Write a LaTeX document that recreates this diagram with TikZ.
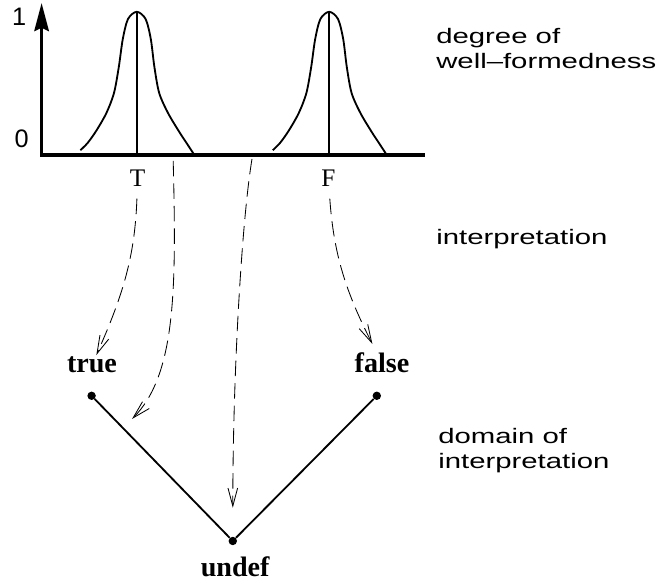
\documentclass[tikz,border=0pt]{standalone}
\usepackage{fontspec}
\usepackage{tikz}
\usetikzlibrary{arrows.meta}
\setmainfont{Liberation Serif}
\newfontfamily\labelsans[FakeStretch=1.4]{Liberation Sans}
\newfontfamily\axissans{Liberation Sans}

\begin{document}
\begin{tikzpicture}[x=1cm,y=1cm,
  axisline/.style={line width=2.4pt},
  peakline/.style={line width=1.3pt},
  mapto/.style={line width=0.6pt,dash pattern=on 11pt off 5pt,
    -{Straight Barb[length=0.45cm,width=0.24cm]}},
  valdot/.style={circle,fill,inner sep=0pt,minimum size=0.21cm},
  valname/.style={inner sep=1pt,font=\bfseries\fontsize{20}{24}\selectfont},
  sidetext/.style={anchor=base west,align=left,inner sep=0pt,
    font=\labelsans\fontsize{14.9}{18.4}\selectfont}]
\path[use as bounding box] (0,0) rectangle (16.50,14.575);
% axes
\draw[axisline,{Stealth[length=0.7cm,width=0.36cm,inset=0.08cm]}-] (1.04,14.50) -- (1.04,10.70) -- (10.63,10.70);
\node[font=\axissans\fontsize{18}{21}\selectfont] (one) at (0.48,14.15) {1};
\node[font=\axissans\fontsize{18}{21}\selectfont] (zero) at (0.54,11.10) {0};
% the two peaks
\foreach \cx in {3.42,8.23} {
  \begin{scope}[shift={(\cx,10.70)}]
  \draw[peakline] plot[smooth] coordinates {(-1.41,0.12) (-1.23,0.30) (-1.01,0.61)
    (-0.76,1.05) (-0.57,1.55) (-0.45,2.20) (-0.35,2.90) (-0.22,3.40) (0,3.58)
    (0.22,3.40) (0.35,2.90) (0.44,2.20) (0.56,1.55) (0.78,1.05) (1.06,0.58)
    (1.25,0.29) (1.42,0.03)};
  \draw[peakline] (0,0) -- (0,3.58);
  \end{scope}
}
\node[anchor=base,inner sep=1pt,font=\fontsize{18}{21}\selectfont] (lblT) at (3.44,9.90) {T};
\node[anchor=base,inner sep=1pt,font=\fontsize{18}{21}\selectfont] (lblF) at (8.21,9.90) {F};
% domain of interpretation
\node[valdot] (dtrue) at (2.29,4.68) {};
\node[valdot] (dfalse) at (9.42,4.68) {};
\node[valdot] (dundef) at (5.82,1.05) {};
\draw[line width=1.3pt] (dtrue) -- (dundef) -- (dfalse);
\node[valname,anchor=base] (true) at (2.30,5.26) {true};
\node[valname,anchor=base] (false) at (9.55,5.26) {false};
\node[valname,anchor=base] (undef) at (5.88,0.16) {undef};
% interpretation arrows
\coordinate (a2s) at (4.33,10.55);
\coordinate (a2e) at (3.30,4.10);
\coordinate (a3s) at (6.30,10.60);
\draw[mapto,shorten <=0.25cm] (lblT) to[out=-92,in=66] (true);
\draw[mapto] (a2s) .. controls +(0.08,-3.2) and +(1.1,1.1) .. (a2e);
\draw[mapto,shorten >=0.72cm] (a3s) .. controls +(-0.25,-1.5) and +(0,4.25) .. (dundef);
\draw[mapto,shorten <=0.25cm,shorten >=0.2cm] (lblF) to[out=-86,in=117] (false);
% side texts
\node[sidetext] (degree) at (10.90,12.85) {degree of\\well–formedness};
\node[sidetext] (interp) at (10.90,8.45) {interpretation};
\node[sidetext] (domain) at (10.95,2.85) {domain of\\interpretation};
\end{tikzpicture}
\end{document}
